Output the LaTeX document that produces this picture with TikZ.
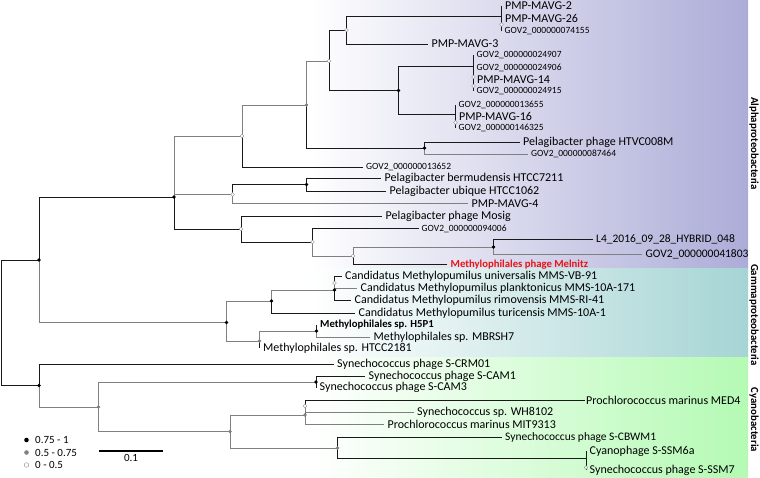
\documentclass[tikz,border=0pt]{standalone}
\usepackage{fontspec}
\setmainfont{Carlito}
\usetikzlibrary{calc}

\definecolor{alphacol}{RGB}{172,172,216}
\definecolor{gammacol}{RGB}{166,212,212}
\definecolor{cyanocol}{RGB}{180,250,180}
\definecolor{melred}{RGB}{230,20,20}

\tikzset{
	lf/.style={anchor=west, inner xsep=3.5pt, inner ysep=1pt, font=\fontsize{12}{13}\selectfont},
	md/.style={lf, font=\fontsize{11.5}{12}\selectfont},
	sm/.style={lf, inner xsep=3pt, font=\fontsize{9.5}{10}\selectfont},
	bf/.style={lf, font=\bfseries\fontsize{10.7}{12}\selectfont},
	br/.style={line width=0.8pt, black!90},
	gbr/.style={line width=0.8pt, black!50},
	hisup/.style={fill=black},
	midsup/.style={fill=black!50},
	losup/.style={fill=white, draw=black!45, line width=0.4pt},
	side/.style={rotate=-90, font=\bfseries\fontsize{10.8}{12}\selectfont},
	leg/.style={anchor=west, inner sep=1pt, font=\fontsize{11}{12}\selectfont},
}

\begin{document}
\begin{tikzpicture}[x=1pt, y=-1pt]
		%%%%% START %%%%%
		\useasboundingbox (0,0) rectangle (760,478);
		
		\shade[left color=white, right color=alphacol] (310,0) rectangle (748,268.5);
		\shade[left color=white, right color=gammacol] (310,268.5) rectangle (748,357.5);
		\shade[left color=white, right color=cyanocol] (310,357.5) rectangle (748,477);
		
		\node[side] (lbAlpha) at (754,143.5) {Alphaproteobacteria};
		\node[side] (lbGamma) at (754,315) {Gammaproteobacteria};
		\node[side] (lbCyano) at (754,420) {Cyanobacteria};
		
		% inner nodes
		\coordinate (root) at (1,322.5);
		\coordinate (nA) at (39,260);
		\coordinate (nAl) at (174,197);
		\coordinate (nB) at (242,136);
		\coordinate (nC) at (306.5,105);
		\coordinate (nE) at (329,61);
		\coordinate (nF) at (346.5,30);
		\coordinate (nH) at (501.5,16);
		\coordinate (nH2) at (501.5,24.5);
		\coordinate (nG) at (398.5,90.5);
		\coordinate (nI) at (473.5,66);
		\coordinate (nI2) at (473.5,77);
		\coordinate (nI3) at (473.5,86);
		\coordinate (nJ) at (455.5,114);
		\coordinate (nJ2) at (455.5,122.5);
		\coordinate (nD) at (424.5,148);
		\coordinate (nK) at (232.5,194.5);
		\coordinate (nL) at (306.5,184.5);
		\coordinate (nM) at (241,229);
		\coordinate (nN) at (312.5,242);
		\coordinate (nO) at (353,256);
		\coordinate (nP) at (493.5,247);
		
		\coordinate (nQ) at (226.5,322.5);
		\coordinate (nR) at (271.5,301);
		\coordinate (nT) at (334.5,290);
		\coordinate (nU) at (334.5,283);
		\coordinate (nS) at (259.5,341);
		\coordinate (nV) at (316.5,331);
		
		\coordinate (nW) at (39,385.5);
		\coordinate (nX) at (98.5,407);
		\coordinate (nY) at (316,382);
		\coordinate (nZ) at (230,431.5);
		\coordinate (nAA) at (305,415);
		\coordinate (nAA2) at (305,406);
		\coordinate (nAB) at (337.5,448);
		\coordinate (nAC) at (586,458);
		\coordinate (nAC2) at (586,467.5);
		
		% leaves
		\node[lf] (mavgA) at (501.5,6) {PMP-MAVG-2};
		\node[lf] (mavgB) at (501.5,18) {PMP-MAVG-26};
		\node[sm] (gov74155) at (501.5,31) {GOV2\_000000074155};
		\node[lf] (mavgC) at (428,44) {PMP-MAVG-3};
		\node[sm] (gov24907) at (473.5,55) {GOV2\_000000024907};
		\node[sm] (gov24906) at (473.5,68) {GOV2\_000000024906};
		\node[lf] (mavg14) at (473.5,79.5) {PMP-MAVG-14};
		\node[sm] (gov24915) at (473.5,91.5) {GOV2\_000000024915};
		\node[sm] (gov13655) at (455.5,105) {GOV2\_000000013655};
		\node[lf] (mavg16) at (455.5,116) {PMP-MAVG-16};
		\node[sm] (gov146325) at (455.5,128) {GOV2\_000000146325};
		\node[lf] (htvc) at (519.5,142) {Pelagibacter phage HTVC008M};
		\node[sm] (gov87464) at (528,154) {GOV2\_000000087464};
		\node[sm] (gov13652) at (363,167) {GOV2\_000000013652};
		\node[lf] (bermu) at (381,178) {Pelagibacter bermudensis HTCC7211};
		\node[lf] (ubique) at (386,191) {Pelagibacter ubique HTCC1062};
		\node[lf] (mavg4) at (468,203.5) {PMP-MAVG-4};
		\node[lf] (mosig) at (382,216) {Pelagibacter phage Mosig};
		\node[sm] (gov94006) at (418.5,228.5) {GOV2\_000000094006};
		\node[md] (hybrid) at (592.5,239.5) {L4\_2016\_09\_28\_HYBRID\_048};
		\node[md] (gov41803) at (642,254) {GOV2\_000000041803};
		\node[bf, text=melred] (melnitz) at (447,264.5) {Methylophilales phage Melnitz};
		
		\node[lf] (univ) at (341.5,276) {Candidatus Methylopumilus universalis MMS-VB-91};
		\node[lf] (plank) at (357,288) {Candidatus Methylopumilus planktonicus MMS-10A-171};
		\node[lf] (rimo) at (351,300) {Candidatus Methylopumilus rimovensis MMS-RI-41};
		\node[lf] (turi) at (355,313) {Candidatus Methylopumilus turicensis MMS-10A-1};
		\node[bf] (h5p1) at (316.5,325) {Methylophilales sp. H5P1};
		\node[lf] (mbrsh) at (370,337) {Methylophilales sp. MBRSH7};
		\node[lf] (htcc) at (259.5,348) {Methylophilales sp. HTCC2181};
		
		\node[lf] (crm) at (333.5,364) {Synechococcus phage S-CRM01};
		\node[lf] (cam1) at (365,376) {Synechococcus phage S-CAM1};
		\node[lf] (cam3) at (316,387.5) {Synechococcus phage S-CAM3};
		\node[lf, inner xsep=1pt] (med4) at (585,400) {Prochlorococcus marinus MED4};
		\node[lf] (wh) at (413.5,412.5) {Synechococcus sp. WH8102};
		\node[lf] (mit) at (384,424) {Prochlorococcus marinus MIT9313};
		\node[md] (cbwm) at (501.5,437) {Synechococcus phage S-CBWM1};
		\node[lf] (ssm6a) at (586,451) {Cyanophage S-SSM6a};
		\node[lf] (ssm7) at (586,470) {Synechococcus phage S-SSM7};
		
		% branches
		\draw[br] (root) |- (nA);
		\draw[br] (root) |- (nW);
		\draw[br] (nA) |- (nAl);
		\draw[gbr] (nA) |- (nQ);
		
		\draw[gbr] (nAl) |- (nB);
		\draw[gbr] (nAl) |- (nK);
		\draw[br] (nAl) |- (nM);
		\draw[gbr] (nB) |- (nC);
		\draw[br] (nB) |- (gov13652.west);
		\draw[gbr] (nC) |- (nE);
		\draw[br] (nC) |- (nD);
		\draw[br] (nE) |- (nF);
		\draw[br] (nE) |- (nG);
		\draw[br] (nF) |- (nH);
		\draw[br] (nF) |- (mavgC.west);
		\draw[br] (nH) |- (mavgA.west);
		\draw[br] (nH) |- (nH2);
		\draw[br] (nH2) |- (mavgB.west);
		\draw[br] (nH2) |- (gov74155.west);
		\draw[br] (nG) |- (nI);
		\draw[br] (nG) |- (nJ);
		\draw[br] (nI) |- (gov24907.west);
		\draw[br] (nI) |- (nI2);
		\draw[br] (nI2) |- (gov24906.west);
		\draw[br] (nI2) |- (nI3);
		\draw[br] (nI3) |- (mavg14.west);
		\draw[br] (nI3) |- (gov24915.west);
		\draw[br] (nJ) |- (gov13655.west);
		\draw[br] (nJ) |- (nJ2);
		\draw[br] (nJ2) |- (mavg16.west);
		\draw[br] (nJ2) |- (gov146325.west);
		\draw[br] (nD) |- (htvc.west);
		\draw[gbr] (nD) |- (gov87464.west);
		\draw[br] (nK) |- (nL);
		\draw[gbr] (nK) |- (mavg4.west);
		\draw[br] (nL) |- (bermu.west);
		\draw[br] (nL) |- (ubique.west);
		\draw[br] (nM) |- (mosig.west);
		\draw[br] (nM) |- (nN);
		\draw[br] (nN) |- (gov94006.west);
		\draw[gbr] (nN) |- (nO);
		\draw[gbr] (nO) |- (nP);
		\draw[br] (nO) |- (melnitz.west);
		\draw[br] (nP) |- (hybrid.west);
		\draw[gbr] (nP) |- (gov41803.west);
		
		\draw[gbr] (nQ) |- (nR);
		\draw[gbr] (nQ) |- (nS);
		\draw[gbr] (nR) |- (nT);
		\draw[br] (nR) |- (turi.west);
		\draw[br] (nT) |- (nU);
		\draw[br] (nT) |- (rimo.west);
		\draw[br] (nU) |- (univ.west);
		\draw[gbr] (nU) |- (plank.west);
		\draw[gbr] (nS) |- (nV);
		\draw[br] (nS) |- (htcc.west);
		\draw[br] (nV) |- (h5p1.west);
		\draw[gbr] (nV) |- (mbrsh.west);
		
		\draw[br] (nW) |- (crm.west);
		\draw[gbr] (nW) |- (nX);
		\draw[gbr] (nX) |- (nY);
		\draw[gbr] (nX) |- (nZ);
		\draw[br] (nY) |- (cam1.west);
		\draw[br] (nY) |- (cam3.west);
		\draw[gbr] (nZ) |- (nAA);
		\draw[gbr] (nZ) |- (nAB);
		\draw[br] (nAA) |- (nAA2);
		\draw[gbr] (nAA) |- (mit.west);
		\draw[br] (nAA2) |- (med4.west);
		\draw[gbr] (nAA2) |- (wh.west);
		\draw[br] (nAB) |- (cbwm.west);
		\draw[br] (nAB) |- (nAC);
		\draw[br] (nAC) |- (ssm6a.west);
		\draw[br] (nAC) |- (ssm7.west);
		
		% support values
		\foreach \n in {nA,nAl,nG,nD,nL,nP,nQ,nR,nT,nV,nW,nY}
			\fill[hisup] (\n) circle (1.9pt);
		\foreach \n in {nC,nS,nX,nZ,nAA,nAB}
			\fill[midsup] (\n) circle (1.9pt);
		\foreach \n in {nB,nE,nF,nH2,nI2,nI3,nJ2,nK,nM,nN,nO,nU,nAA2,nAC2}
			\filldraw[losup] (\n) circle (1.9pt);
		
		% legend
		\fill[hisup] (26.5,440) circle (2.3pt);
		\fill[midsup] (26.5,452.5) circle (2.3pt);
		\filldraw[losup] (26.5,465) circle (2.3pt);
		\node[leg] (legHi) at (34,440) {0.75 - 1};
		\node[leg] (legMid) at (34,452.5) {0.5 - 0.75};
		\node[leg] (legLo) at (34,465) {0 - 0.5};
		
		\draw[line width=1.8pt] (99,451) -- (162.5,451);
		\node[leg, anchor=north] (scale) at (131,453.5) {0.1};
		
		%%%%% END %%%%%
\end{tikzpicture}
\end{document}
